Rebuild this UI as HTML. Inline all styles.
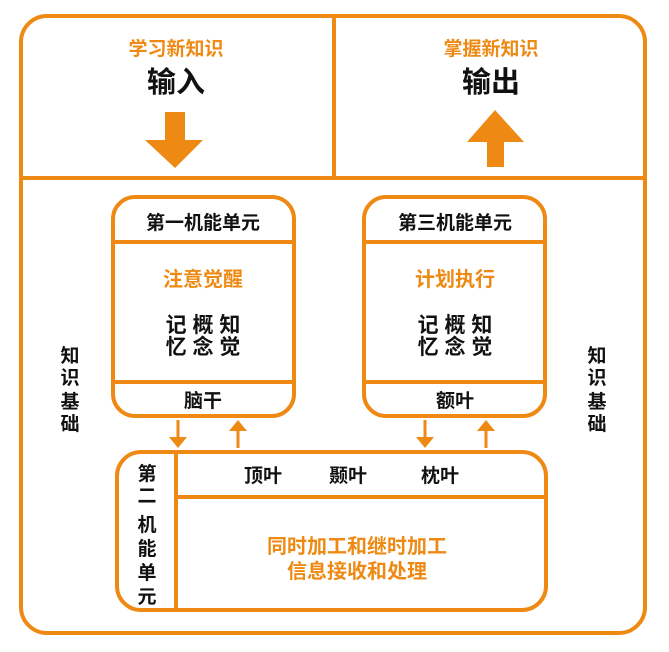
<!DOCTYPE html>
<html><head><meta charset="utf-8"><style>
body{margin:0;background:#fff;width:669px;height:652px;overflow:hidden}
svg{display:block}
text{font-family:"Liberation Sans","Noto Sans CJK SC",sans-serif}
.o{fill:#ee8a14}
.k{fill:#111}
</style></head><body>
<svg width="669" height="652" viewBox="0 0 669 652">
<g fill="none" stroke="#ee8a14" stroke-width="4">
<rect x="21" y="16" width="624" height="617" rx="26"/>
<line x1="21" y1="178" x2="645" y2="178"/>
<line x1="334" y1="16" x2="334" y2="178"/>
<rect x="113" y="197" width="181" height="219" rx="22"/>
<line x1="113" y1="242" x2="294" y2="242"/>
<line x1="113" y1="382" x2="294" y2="382"/>
<rect x="364" y="197" width="181" height="219" rx="22"/>
<line x1="364" y1="242" x2="545" y2="242"/>
<line x1="364" y1="382" x2="545" y2="382"/>
<rect x="117" y="452" width="429" height="158" rx="24"/>
<line x1="176" y1="452" x2="176" y2="610"/>
<line x1="176" y1="497" x2="546" y2="497"/>
<g stroke-width="3">
<line x1="178" y1="420" x2="178" y2="440"/>
<line x1="238" y1="448" x2="238" y2="428"/>
<line x1="425" y1="420" x2="425" y2="440"/>
<line x1="486" y1="448" x2="486" y2="428"/>
</g>
</g>
<g class="o">
<polygon points="169,437 187,437 178,448"/>
<polygon points="229,431 247,431 238,420"/>
<polygon points="416,437 434,437 425,448"/>
<polygon points="477,431 495,431 486,420"/>
</g>
<polygon class="o" points="165,112 185,112 185,140 203,140 175,168 145,140 165,140"/>
<polygon class="o" points="495,110 524,142 504,142 504,167 487,167 487,142 467,142"/>
<text x="176" y="55" class="o" font-size="19" font-weight="bold" text-anchor="middle">学习新知识</text>
<text x="176" y="92" class="k" font-size="29" font-weight="bold" text-anchor="middle">输入</text>
<text x="491" y="55" class="o" font-size="19" font-weight="bold" text-anchor="middle">掌握新知识</text>
<text x="491" y="92" class="k" font-size="29" font-weight="bold" text-anchor="middle">输出</text>
<g font-weight="bold">
<text x="203" y="229" class="k" font-size="19" text-anchor="middle">第一机能单元</text>
<text x="203" y="286" class="o" font-size="20" text-anchor="middle">注意觉醒</text>
<text x="203" y="332" class="k" font-size="21" text-anchor="middle">记 概 知</text>
<text x="203" y="354" class="k" font-size="21" text-anchor="middle">忆 念 觉</text>
<text x="203" y="407" class="k" font-size="19" text-anchor="middle">脑干</text>
<text x="455" y="229" class="k" font-size="19" text-anchor="middle">第三机能单元</text>
<text x="455" y="286" class="o" font-size="20" text-anchor="middle">计划执行</text>
<text x="455" y="332" class="k" font-size="21" text-anchor="middle">记 概 知</text>
<text x="455" y="354" class="k" font-size="21" text-anchor="middle">忆 念 觉</text>
<text x="455" y="407" class="k" font-size="19" text-anchor="middle">额叶</text>
<g class="k" font-size="19" text-anchor="middle">
<text x="70" y="362">知</text><text x="70" y="384">识</text><text x="70" y="408">基</text><text x="70" y="430">础</text>
<text x="597" y="362">知</text><text x="597" y="384">识</text><text x="597" y="408">基</text><text x="597" y="430">础</text>
</g>
<g class="k" font-size="19" text-anchor="middle">
<text x="147" y="480">第</text><text x="147" y="502">二</text><text x="147" y="531">机</text><text x="147" y="555">能</text><text x="147" y="579">单</text><text x="147" y="603">元</text>
</g>
<text x="263" y="482" class="k" font-size="19" text-anchor="middle">顶叶</text>
<text x="348" y="482" class="k" font-size="19" text-anchor="middle">颞叶</text>
<text x="440" y="482" class="k" font-size="19" text-anchor="middle">枕叶</text>
<text x="357" y="553" class="o" font-size="20" text-anchor="middle">同时加工和继时加工</text>
<text x="357" y="578" class="o" font-size="20" text-anchor="middle">信息接收和处理</text>
</g>
</svg>
</body></html>
